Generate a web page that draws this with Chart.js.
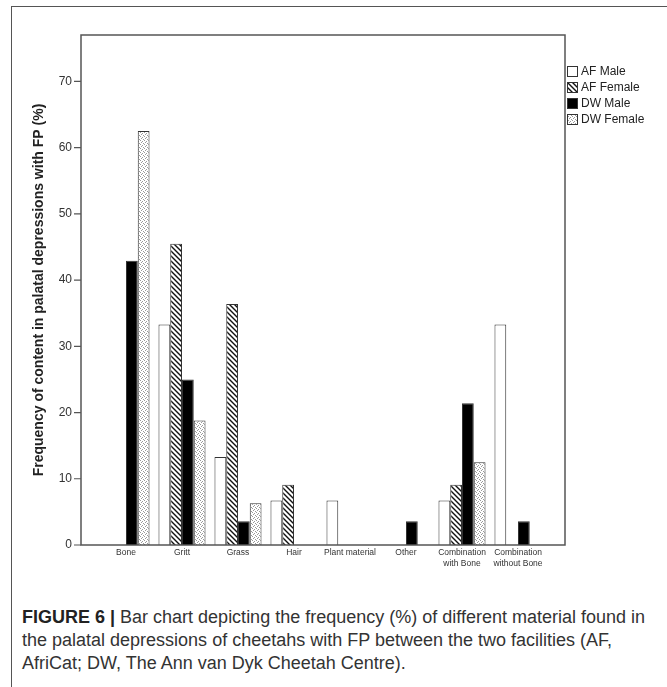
<!DOCTYPE html>
<html>
<head>
<meta charset="utf-8">
<script src="https://cdn.jsdelivr.net/npm/chart.js@4/dist/chart.umd.min.js"></script>
<style>
  body { margin: 0; background: #fff; }
  #page { position: relative; width: 667px; height: 687px; overflow: hidden; }
  #border { position: absolute; left: 11px; top: 6px; width: 700px; height: 700px;
            border-left: 1.5px solid #555; border-top: 1.5px solid #555; }
  #wrap { position: absolute; left: 0; top: 0; width: 667px; height: 600px; }
  #caption { position: absolute; left: 22px; top: 606px; white-space: nowrap;
             font-family: "Liberation Sans", Arial, sans-serif; font-size: 18px;
             line-height: 23px; color: #333; }
  #caption b { color: #222; }
</style>
</head>
<body>
<div id="page">
  <div id="border"></div>
  <div id="wrap"><canvas id="myChart"></canvas></div>
  <div id="caption"><b>FIGURE 6 |</b> Bar chart depicting the frequency (%) of different material found in<br>the palatal depressions of cheetahs with FP between the two facilities (AF,<br>AfriCat; DW, The Ann van Dyk Cheetah Centre).</div>
</div>
<script>
var categories = ["Bone", "Gritt", "Grass", "Hair", "Plant material", "Other",
    ["Combination", "with Bone"], ["Combination", "without Bone"]];
var afMale = [0, 33.3, 13.3, 6.7, 6.7, 0, 6.7, 33.3];
var afFemale = [0, 45.5, 36.4, 9.1, 0, 0, 9.1, 0];
var dwMale = [42.9, 25.0, 3.6, 0, 0, 3.6, 21.4, 3.6];
var dwFemale = [62.5, 18.8, 6.3, 0, 0, 0, 12.5, 0];
var yTicks = [0, 10, 20, 30, 40, 50, 60, 70];

// fill patterns for the two textured series
function hatchPattern() {
    var c = document.createElement('canvas');
    c.width = c.height = 5;
    var g = c.getContext('2d');
    g.fillStyle = '#fff';
    g.fillRect(0, 0, 5, 5);
    g.strokeStyle = '#111';
    g.lineWidth = 1.4;
    g.beginPath();
    g.moveTo(-1, -1); g.lineTo(6, 6);
    g.moveTo(-1, 4); g.lineTo(1, 6);
    g.moveTo(4, -1); g.lineTo(6, 1);
    g.stroke();
    return g.createPattern(c, 'repeat');
}
function dotPattern() {
    var c = document.createElement('canvas');
    c.width = c.height = 4;
    var g = c.getContext('2d');
    g.fillStyle = '#fff';
    g.fillRect(0, 0, 4, 4);
    g.fillStyle = '#999';
    g.fillRect(0, 0, 1, 1);
    g.fillRect(2, 1, 1, 1);
    g.fillRect(1, 2, 1, 1);
    g.fillRect(3, 3, 1, 1);
    return g.createPattern(c, 'repeat');
}

var FONT = '"Liberation Sans", Arial, sans-serif';

// frame round the data region, y tick marks and the legend box
var framePlugin = {
    id: 'frame',
    afterDraw: function (chart) {
        var ctx = chart.ctx, a = chart.chartArea, y = chart.scales.y;
        var left = a.left - 17, right = a.right + 19;
        ctx.save();
        ctx.strokeStyle = '#555';
        ctx.lineWidth = 1.5;
        ctx.strokeRect(left, a.top, right - left, a.bottom - a.top);
        ctx.lineWidth = 1.2;
        ctx.beginPath();
        y.ticks.forEach(function (t) {
            var py = y.getPixelForValue(t.value);
            ctx.moveTo(left - 7, py);
            ctx.lineTo(left, py);
        });
        ctx.stroke();

        ctx.font = '12px ' + FONT;
        ctx.textBaseline = 'middle';
        ctx.textAlign = 'left';
        chart.data.datasets.forEach(function (ds, i) {
            var cy = 71 + i * 16;
            ctx.fillStyle = ds.backgroundColor;
            ctx.fillRect(right + 2, cy - 5, 11, 11);
            ctx.strokeStyle = '#333';
            ctx.lineWidth = 1;
            ctx.strokeRect(right + 2.5, cy - 4.5, 10, 10);
            ctx.fillStyle = '#222';
            ctx.fillText(ds.label, right + 16, cy + 1);
        });
        ctx.restore();
    }
};

var ctx = document.getElementById('myChart');
var barStyle = { borderColor: '#333', borderWidth: 1, borderSkipped: 'start' };

new Chart(ctx, {
    type: 'bar',
    data: {
        labels: categories,
        datasets: [
            Object.assign({ label: 'AF Male', data: afMale, backgroundColor: '#fff' }, barStyle),
            Object.assign({ label: 'AF Female', data: afFemale, backgroundColor: hatchPattern() }, barStyle),
            Object.assign({ label: 'DW Male', data: dwMale, backgroundColor: '#000' }, barStyle),
            Object.assign({ label: 'DW Female', data: dwFemale, backgroundColor: dotPattern() }, barStyle)
        ]
    },
    options: {
        responsive: true,
        maintainAspectRatio: false,
        animation: false,
        categoryPercentage: 0.84,
        barPercentage: 1.0,
        layout: { padding: { left: 14, top: 35, right: 121, bottom: 15 } },
        plugins: { legend: { display: false }, tooltip: { enabled: false } },
        scales: {
            x: {
                grid: { display: false, drawTicks: false },
                border: { display: false },
                ticks: { color: '#333', font: { family: FONT, size: 8.5 }, padding: 3,
                         maxRotation: 0, autoSkip: false },
                afterFit: function (s) { s.height = 40; }
            },
            y: {
                min: 0,
                max: 77,
                grid: { display: false, drawTicks: false },
                border: { display: false },
                ticks: { stepSize: 10, color: '#333', font: { family: FONT, size: 12 }, padding: 26 },
                afterBuildTicks: function (s) {
                    s.ticks = yTicks.map(function (v) { return { value: v }; });
                },
                afterFit: function (s) { s.width = 84; },
                title: {
                    display: true,
                    text: 'Frequency of content in palatal depressions with FP (%)',
                    color: '#222',
                    font: { family: FONT, size: 14, weight: 'bold' },
                    padding: { top: 17, bottom: 0 }
                }
            }
        }
    },
    plugins: [framePlugin]
});
</script>
</body>
</html>
